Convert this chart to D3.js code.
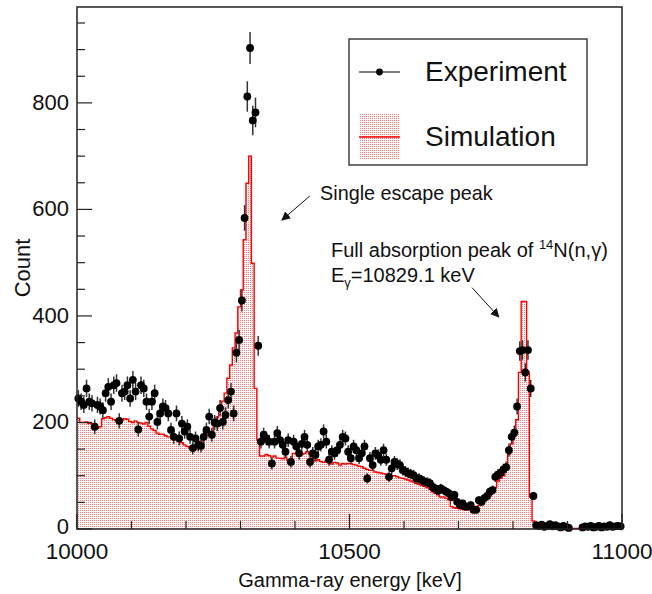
<!DOCTYPE html>
<html>
<head>
<meta charset="utf-8">
<script src="https://cdn.jsdelivr.net/npm/d3@7"></script>
<style>
  html, body { margin: 0; padding: 0; background: #fff; }
  svg { display: block; font-family: "Liberation Sans", Arial, Helvetica, sans-serif; }
</style>
</head>
<body>
<svg id="chart" width="652" height="594"></svg>
<script>
// Energy binning: 200 bins of 5 keV between 10000 and 11000 keV
const binStart = 10000;
const binWidth = 5;

// Measured spectrum (counts per bin)
const experiment = [
  245, 239, 233, 264, 239, 236, 192, 233, 230, 223,
  255, 267, 239, 270, 274, 203, 255, 258, 270, 245,
  280, 258, 187, 270, 264, 239, 211, 239, 255, 201,
  217, 230, 227, 217, 186, 173, 217, 170, 198, 183,
  192, 173, 152, 170, 158, 156, 173, 186, 211, 177,
  200, 198, 227, 201, 214, 242, 258, 217, 331, 355,
  429, 584, 812, 903, 767, 782, 344, 164, 177, 170,
  164, 123, 164, 180, 167, 158, 145, 167, 126, 164,
  155, 142, 160, 173, 158, 126, 142, 139, 155, 158,
  183, 164, 130, 145, 142, 148, 158, 173, 170, 145,
  133, 155, 148, 133, 142, 155, 95, 133, 120, 142,
  138, 130, 148, 130, 98, 114, 126, 122, 120, 111,
  108, 105, 103, 101, 95, 95, 92, 89, 88, 86,
  79, 76, 72, 76, 73, 70, 67, 60, 64, 51,
  45, 48, 42, 42, 45, 36, 36, 54, 51, 58,
  62, 70, 73, 98, 102, 106, 112, 116, 148, 173,
  181, 230, 334, 336, 294, 336, 264, 62, 7, 6,
  8, 4, 6, 9, 5, 7, 5, 3, 6, 4,
  2, 0, 0, 0, 0, 3, 5, 4, 6, 3,
  4, 6, 3, 5, 4, 7, 4, 5, 6, 5
];

// Simulated response (counts per bin)
const simulation = [
  208, 200, 200, 201, 198, 198, 190, 189, 192, 207,
  209, 211, 208, 205, 203, 200, 204, 207, 206, 202,
  200, 203, 200, 199, 197, 200, 193, 188, 185, 180,
  178, 178, 175, 173, 173, 170, 168, 167, 162, 158,
  155, 152, 150, 150, 158, 165, 170, 176, 178, 182,
  195, 210, 225, 240, 255, 283, 308, 340, 368, 417,
  449, 543, 649, 700, 499, 264, 167, 137, 137, 140,
  138, 135, 137, 133, 133, 132, 135, 130, 132, 142,
  142, 140, 140, 142, 145, 140, 131, 128, 130, 127,
  125, 128, 126, 122, 125, 124, 120, 123, 122, 123,
  123, 121, 120, 118, 117, 114, 112, 110, 110, 107,
  106, 105, 104, 103, 102, 100, 100, 98, 96, 95,
  94, 92, 90, 88, 86, 84, 82, 80, 78, 75,
  70, 67, 64, 60, 60, 58, 55, 42, 40, 39,
  38, 37, 36, 36, 36, 38, 40, 44, 50, 55,
  58, 62, 73, 78, 90, 95, 100, 120, 140, 160,
  175, 205, 294, 427, 427, 295, 60, 15, 1, 1,
  1, 1, 1, 1, 1, 1, 1, 1, 1, 1,
  1, 1, 1, 1, 1, 1, 1, 1, 1, 1,
  1, 1, 1, 1, 1, 1, 1, 1, 1, 1
];

// Axis ticks
const xMajorTicks = [10000, 10500, 11000];
const yMajorTicks = [0, 200, 400, 600, 800];

// Legend entries and annotations
const legendLabels = ["Experiment", "Simulation"];
const escapeLabel = "Single escape peak";
const fullLabel = "Full absorption peak of ";
const energyLabel = "=10829.1 keV";

const svg = d3.select("#chart");
const margin = { left: 77, right: 30, top: 7, bottom: 65 };
const W = 652, H = 594;
const plotW = W - margin.left - margin.right;
const plotH = H - margin.top - margin.bottom;

const x = d3.scaleLinear().domain([10000, 11000]).range([margin.left, margin.left + plotW]);
const y = d3.scaleLinear().domain([0, 980]).range([margin.top + plotH, margin.top]);

// Dotted fill used by the simulated histogram
const defs = svg.append("defs");
const pat = defs.append("pattern")
  .attr("id", "dots").attr("patternUnits", "userSpaceOnUse")
  .attr("width", 2).attr("height", 2);
pat.append("rect").attr("width", 2).attr("height", 2).attr("fill", "#fffafa");
pat.append("rect").attr("width", 1).attr("height", 1).attr("fill", "#ff7a7a");

const clip = defs.append("clipPath").attr("id", "plotclip");
clip.append("rect").attr("x", margin.left).attr("y", margin.top)
  .attr("width", plotW).attr("height", plotH);

// Histogram steps
const simSteps = simulation.map((v, i) => ({ e: binStart + i * binWidth, v }));
simSteps.push({ e: binStart + simulation.length * binWidth, v: simulation[simulation.length - 1] });

const area = d3.area().curve(d3.curveStepAfter)
  .x(d => x(d.e)).y0(y(0)).y1(d => y(d.v));
const line = d3.line().curve(d3.curveStepAfter)
  .x(d => x(d.e)).y(d => y(d.v));

const g = svg.append("g").attr("clip-path", "url(#plotclip)");
g.append("path").datum(simSteps).attr("d", area)
  .attr("fill", "url(#dots)").attr("shape-rendering", "crispEdges");
g.append("path").datum(simSteps).attr("d", line)
  .attr("fill", "none").attr("stroke", "#ff0000").attr("stroke-width", 1.4);

// Experimental points with Poisson error bars
const pts = experiment.map((v, i) => ({ e: binStart + (i + 0.5) * binWidth, v }))
  .filter(d => d.v > 0);
const pg = svg.append("g");
pg.selectAll("line.err").data(pts).join("line")
  .attr("class", "err")
  .attr("x1", d => x(d.e)).attr("x2", d => x(d.e))
  .attr("y1", d => y(Math.max(0, d.v - Math.sqrt(d.v))))
  .attr("y2", d => y(d.v + Math.sqrt(d.v)))
  .attr("stroke", "#333").attr("stroke-width", 1.5);
pg.selectAll("circle").data(pts).join("circle")
  .attr("cx", d => x(d.e)).attr("cy", d => y(d.v)).attr("r", 3.9)
  .attr("fill", "#000");

// Frame
svg.append("rect").attr("x", margin.left).attr("y", margin.top)
  .attr("width", plotW).attr("height", plotH)
  .attr("fill", "none").attr("stroke", "#222").attr("stroke-width", 1.5);

// Inward ticks (ROOT style)
const axG = svg.append("g").attr("stroke", "#222").attr("stroke-width", 1.2);
d3.range(10000, 11001, 100).forEach(v => {
  const major = v % 500 === 0;
  axG.append("line").attr("x1", x(v)).attr("x2", x(v))
    .attr("y1", y(0)).attr("y2", y(0) - (major ? 15 : 8));
});
d3.range(0, 981, 50).forEach(v => {
  const major = v % 200 === 0;
  axG.append("line").attr("x1", x(10000)).attr("x2", x(10000) + (major ? 15 : 8))
    .attr("y1", y(v)).attr("y2", y(v));
});

// Tick labels
svg.append("g").selectAll("text").data(xMajorTicks).join("text")
  .attr("x", d => x(d)).attr("y", y(0) + 30)
  .attr("text-anchor", "middle").attr("font-size", 22.5).attr("fill", "#111")
  .text(d => d);
svg.append("g").selectAll("text").data(yMajorTicks).join("text")
  .attr("x", x(10000) - 8).attr("y", d => y(d) + (d === 0 ? 5 : 7))
  .attr("text-anchor", "end").attr("font-size", 22).attr("fill", "#111")
  .text(d => d);

// Axis titles
svg.append("text").attr("x", 350).attr("y", 587)
  .attr("text-anchor", "middle").attr("font-size", 20).attr("fill", "#111")
  .text("Gamma-ray energy [keV]");
svg.append("text").attr("transform", "translate(30,268) rotate(-90)")
  .attr("text-anchor", "middle").attr("font-size", 22).attr("fill", "#111")
  .text("Count");

// Legend
const lg = svg.append("g");
lg.append("rect").attr("x", 349).attr("y", 39).attr("width", 238).attr("height", 126)
  .attr("fill", "#fff").attr("stroke", "#111").attr("stroke-width", 1.2);
lg.append("line").attr("x1", 359).attr("x2", 400).attr("y1", 72).attr("y2", 72)
  .attr("stroke", "#000").attr("stroke-width", 1.2);
lg.append("circle").attr("cx", 379.5).attr("cy", 72).attr("r", 3.4).attr("fill", "#000");
lg.append("rect").attr("x", 359).attr("y", 113).attr("width", 41).attr("height", 47)
  .attr("fill", "url(#dots)").attr("shape-rendering", "crispEdges");
lg.append("line").attr("x1", 359).attr("x2", 400).attr("y1", 137).attr("y2", 137)
  .attr("stroke", "#ff0000").attr("stroke-width", 1.4);
lg.selectAll("text").data(legendLabels).join("text")
  .attr("x", 425).attr("y", (d, i) => 81 + i * 65)
  .attr("font-size", 28).attr("fill", "#111").text(d => d);

// Annotations (placed in data coordinates)
const ann = svg.append("g").attr("fill", "#111");
defs.append("marker").attr("id", "arrow").attr("viewBox", "0 0 10 10")
  .attr("refX", 9).attr("refY", 5).attr("markerWidth", 9).attr("markerHeight", 9)
  .attr("markerUnits", "userSpaceOnUse").attr("orient", "auto")
  .append("path").attr("d", "M0,0 L10,5 L0,10 Z").attr("fill", "#111");

ann.append("text").attr("x", x(10446)).attr("y", y(617)).attr("font-size", 19.8)
  .text(escapeLabel);
ann.append("line").attr("x1", x(10427)).attr("y1", y(625)).attr("x2", x(10376)).attr("y2", y(580))
  .attr("stroke", "#111").attr("stroke-width", 1).attr("marker-end", "url(#arrow)");

const t1 = ann.append("text").attr("x", x(10466)).attr("y", y(511)).attr("font-size", 20);
t1.append("tspan").text(fullLabel);
t1.append("tspan").attr("font-size", 13).attr("dy", -8).text("14");
t1.append("tspan").attr("dy", 8).text("N(n,\u03B3)");
const t2 = ann.append("text").attr("x", x(10466)).attr("y", y(464)).attr("font-size", 20);
t2.append("tspan").text("E");
t2.append("tspan").attr("font-size", 13).attr("dy", 5).text("\u03B3");
t2.append("tspan").attr("dy", -5).text(energyLabel);
ann.append("line").attr("x1", x(10725)).attr("y1", y(453)).attr("x2", x(10774)).attr("y2", y(398))
  .attr("stroke", "#111").attr("stroke-width", 1).attr("marker-end", "url(#arrow)");
</script>
</body>
</html>
